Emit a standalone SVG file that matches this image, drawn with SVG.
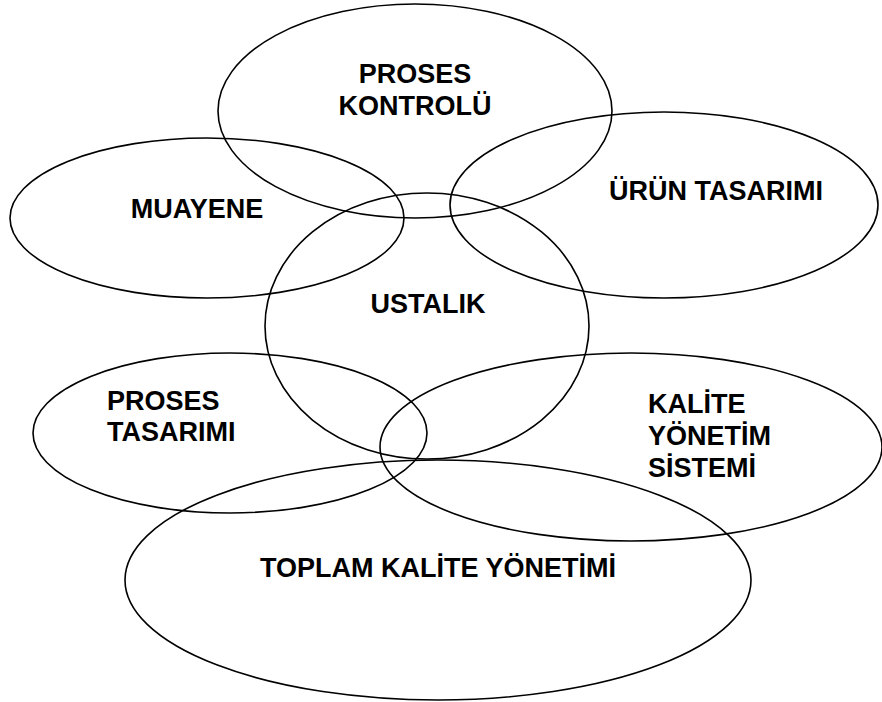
<svg xmlns="http://www.w3.org/2000/svg" width="882" height="702" viewBox="0 0 882 702">
  <style>
    .ring { fill: none; stroke: #000; stroke-width: 1.6; }
    .label { font-family: "Liberation Sans", Arial, sans-serif; font-weight: bold; font-size: 27px; fill: #000; }
    .mid { text-anchor: middle; }
  </style>
  <rect width="882" height="702" fill="#fff"/>
  <g id="proses-kontrolu">
    <ellipse class="ring" cx="415" cy="111" rx="197" ry="107"/>
    <text class="label mid" x="415" y="83">PROSES</text>
    <text class="label mid" x="415" y="115">KONTROLÜ</text>
  </g>
  <g id="muayene">
    <ellipse class="ring" cx="207" cy="218" rx="197" ry="80"/>
    <text class="label mid" x="197" y="218">MUAYENE</text>
  </g>
  <g id="urun-tasarimi">
    <ellipse class="ring" cx="664" cy="205" rx="214" ry="93"/>
    <text class="label mid" x="716" y="200">ÜRÜN TASARIMI</text>
  </g>
  <g id="ustalik">
    <ellipse class="ring" cx="427" cy="326" rx="162" ry="133"/>
    <text class="label mid" x="428" y="313">USTALIK</text>
  </g>
  <g id="proses-tasarimi">
    <ellipse class="ring" cx="230" cy="433" rx="197" ry="80"/>
    <text class="label" x="107" y="410">PROSES</text>
    <text class="label" x="107" y="441">TASARIMI</text>
  </g>
  <g id="kalite-yonetim-sistemi">
    <ellipse class="ring" cx="631" cy="447" rx="251" ry="94"/>
    <text class="label" x="648" y="413">KALİTE</text>
    <text class="label" x="648" y="445">YÖNETİM</text>
    <text class="label" x="648" y="477">SİSTEMİ</text>
  </g>
  <g id="toplam-kalite-yonetimi">
    <ellipse class="ring" cx="438" cy="580" rx="313" ry="120"/>
    <text class="label mid" x="438" y="577">TOPLAM KALİTE YÖNETİMİ</text>
  </g>
  <g id="connectors"/>
</svg>
